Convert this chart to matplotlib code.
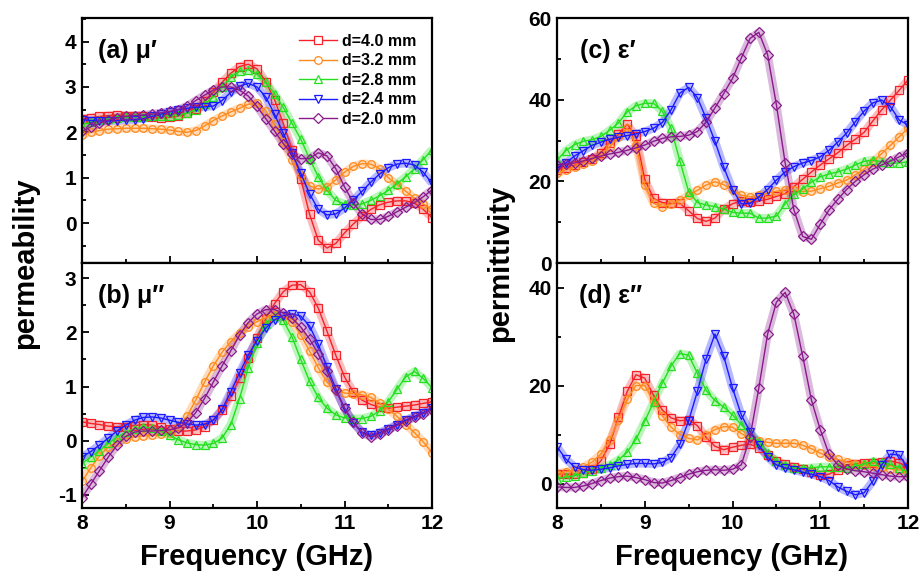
import matplotlib
matplotlib.use('Agg')
from matplotlib import pyplot as plt
from matplotlib.ticker import MultipleLocator

plt.rcParams['font.family'] = ['Liberation Sans', 'DejaVu Sans']
plt.rcParams['font.weight'] = 'bold'
plt.rcParams['axes.unicode_minus'] = False

freq = [8.0, 8.1, 8.2, 8.3, 8.4, 8.5, 8.6, 8.7, 8.8, 8.9,
        9.0, 9.1, 9.2, 9.3, 9.4, 9.5, 9.6, 9.7, 9.8, 9.9,
        10.0, 10.1, 10.2, 10.3, 10.4, 10.5, 10.6, 10.7, 10.8, 10.9,
        11.0, 11.1, 11.2, 11.3, 11.4, 11.5, 11.6, 11.7, 11.8, 11.9, 12.0]

labels = ['d=4.0 mm', 'd=3.2 mm', 'd=2.8 mm', 'd=2.4 mm', 'd=2.0 mm']

# (a) mu'
mu_re_40 = [2.3, 2.32, 2.35, 2.37, 2.38, 2.37, 2.36, 2.35, 2.33, 2.32,
            2.33, 2.36, 2.42, 2.52, 2.68, 2.88, 3.1, 3.3, 3.45, 3.5,
            3.4, 3.12, 2.72, 2.2, 1.62, 0.98, 0.2, -0.38, -0.55, -0.45,
            -0.22, -0.02, 0.15, 0.3, 0.4, 0.46, 0.49, 0.49, 0.44, 0.3, 0.12]
mu_re_32 = [1.95, 2.0, 2.04, 2.07, 2.08, 2.09, 2.09, 2.09, 2.08, 2.07,
            2.05, 2.02, 2.0, 2.04, 2.14, 2.26, 2.36, 2.45, 2.53, 2.62,
            2.64, 2.48, 2.18, 1.78, 1.4, 1.05, 0.82, 0.75, 0.8, 0.95,
            1.12, 1.25, 1.31, 1.3, 1.2, 1.0, 0.85, 0.7, 0.55, 0.42, 0.3]
mu_re_28 = [2.17, 2.22, 2.27, 2.3, 2.32, 2.33, 2.34, 2.34, 2.35, 2.36,
            2.37, 2.39, 2.42, 2.5, 2.62, 2.78, 3.0, 3.22, 3.35, 3.38,
            3.28, 3.1, 2.85, 2.55, 2.2, 1.85, 1.42, 1.02, 0.72, 0.5,
            0.42, 0.4, 0.42, 0.5, 0.6, 0.72, 0.87, 1.02, 1.2, 1.4, 1.62]
mu_re_24 = [2.28, 2.26, 2.25, 2.25, 2.26, 2.27, 2.28, 2.3, 2.35, 2.4,
            2.45, 2.5, 2.53, 2.55, 2.56, 2.58, 2.7, 2.88, 3.02, 3.08,
            3.0, 2.78, 2.4, 1.98, 1.55, 1.1, 0.65, 0.3, 0.18, 0.2,
            0.33, 0.5, 0.7, 0.9, 1.08, 1.22, 1.3, 1.32, 1.28, 1.12, 0.88]
mu_re_20 = [2.02, 2.12, 2.2, 2.27, 2.32, 2.35, 2.37, 2.38, 2.4, 2.43,
            2.46, 2.5, 2.58, 2.7, 2.82, 2.93, 3.0, 3.0, 2.93, 2.8,
            2.57, 2.3, 2.03, 1.75, 1.52, 1.42, 1.42, 1.55, 1.48, 1.2,
            0.8, 0.45, 0.2, 0.08, 0.08, 0.15, 0.25, 0.35, 0.45, 0.58, 0.73]

# (b) mu''
mu_im_40 = [0.35, 0.32, 0.3, 0.27, 0.26, 0.26, 0.28, 0.3, 0.29, 0.25,
            0.21, 0.18, 0.18, 0.2, 0.26, 0.38, 0.56, 0.82, 1.15, 1.52,
            1.9, 2.25, 2.53, 2.75, 2.87, 2.88, 2.75, 2.45, 2.02, 1.58,
            1.18, 0.9, 0.75, 0.67, 0.62, 0.6, 0.62, 0.64, 0.66, 0.69, 0.72]
mu_im_32 = [-0.75, -0.5, -0.28, -0.12, -0.02, 0.04, 0.07, 0.09, 0.1, 0.12,
            0.15, 0.25, 0.45, 0.75, 1.08, 1.38, 1.63, 1.83, 1.98, 2.1,
            2.2, 2.27, 2.32, 2.3, 2.2, 1.95, 1.66, 1.35, 1.08, 0.93,
            0.88, 0.87, 0.85, 0.8, 0.7, 0.58, 0.45, 0.3, 0.15, -0.02, -0.22]
mu_im_28 = [-0.42, -0.3, -0.18, -0.05, 0.07, 0.16, 0.22, 0.25, 0.24, 0.18,
            0.1, 0.02, -0.04, -0.07, -0.08, -0.05, 0.05, 0.3, 0.78, 1.35,
            1.8, 2.15, 2.3, 2.22, 1.92, 1.5, 1.1, 0.8, 0.6, 0.48,
            0.42, 0.41, 0.41, 0.45, 0.55, 0.72, 0.95, 1.18, 1.28, 1.15, 0.98]
mu_im_24 = [-0.3, -0.2, -0.08, 0.05, 0.18, 0.29, 0.38, 0.43, 0.44, 0.42,
            0.38, 0.34, 0.31, 0.29, 0.3, 0.38, 0.58, 0.9, 1.25, 1.58,
            1.85, 2.08, 2.23, 2.31, 2.34, 2.3, 2.12, 1.78, 1.36, 0.96,
            0.6, 0.33, 0.16, 0.1, 0.15, 0.22, 0.3, 0.38, 0.45, 0.52, 0.6]
mu_im_20 = [-1.05, -0.8, -0.55, -0.3, -0.08, 0.08, 0.16, 0.18, 0.18, 0.19,
            0.2, 0.24, 0.34, 0.52, 0.78, 1.08, 1.38, 1.66, 1.95, 2.18,
            2.34, 2.42, 2.42, 2.36, 2.26, 2.1, 1.88, 1.6, 1.28, 0.93,
            0.6, 0.34, 0.15, 0.07, 0.12, 0.2, 0.28, 0.36, 0.43, 0.5, 0.57]

# (c) eps'
eps_re_40 = [22.8, 23.3, 24.0, 24.8, 25.5, 27.0, 29.5, 31.5, 34.0, 31.0,
             20.5, 15.8, 14.8, 14.6, 14.6, 12.8, 10.9, 10.2, 11.0, 13.2,
             14.5, 15.2, 14.9, 15.2, 15.6, 16.3, 17.0, 18.7, 20.5, 22.3,
             24.0, 25.5, 27.0, 28.8, 30.3, 32.0, 34.8, 37.5, 39.9, 42.3, 44.8]
eps_re_32 = [22.0, 22.8, 23.6, 24.2, 25.0, 26.5, 28.5, 30.8, 33.0, 29.0,
             19.0, 14.6, 13.8, 14.4, 15.4, 16.6, 17.8, 19.1, 19.9, 19.2,
             17.8, 16.6, 16.2, 16.6, 17.1, 17.6, 17.9, 17.8, 17.5, 17.6,
             18.2, 18.8, 19.6, 20.3, 21.6, 23.0, 24.8, 26.8, 28.8, 30.9, 33.0]
eps_re_28 = [25.2, 27.5, 29.0, 29.8, 30.2, 31.0, 32.5, 34.3, 37.0, 38.5,
             39.1, 39.1, 37.2, 33.0, 25.0, 17.5, 14.8, 14.2, 13.8, 13.2,
             12.4, 12.2, 12.2, 11.0, 11.0, 11.5, 14.5, 16.8, 18.2, 19.8,
             21.1, 21.8, 22.3, 23.0, 24.0, 24.9, 25.2, 24.8, 24.4, 24.5, 24.8]
eps_re_24 = [23.2, 24.5, 26.2, 27.5, 28.8, 29.6, 30.3, 30.8, 31.2, 31.6,
             32.2, 33.0, 34.4, 37.5, 41.6, 43.0, 40.5, 35.4, 29.8, 23.5,
             18.0, 14.5, 14.6, 16.2, 18.0, 20.3, 22.3, 23.6, 24.5, 25.1,
             26.0, 27.6, 29.6, 31.8, 34.6, 37.2, 39.2, 39.9, 38.3, 35.0, 33.8]
eps_re_20 = [24.0, 24.2, 24.5, 25.0, 25.6, 26.2, 26.7, 27.1, 27.6, 28.2,
             28.9, 29.8, 30.5, 30.9, 31.0, 31.3, 32.2, 34.5, 38.0, 41.5,
             45.2, 50.2, 55.0, 56.5, 51.0, 38.8, 24.5, 13.0, 6.5, 5.8,
             9.5, 13.0, 15.6, 18.0, 20.0, 21.6, 23.0, 24.0, 25.0, 26.0, 27.0]

# (d) eps''
eps_im_40 = [2.0, 1.9, 1.9, 2.2, 2.9, 4.6, 8.0, 13.5, 18.8, 22.2,
             21.5, 18.0, 15.0, 13.4, 12.8, 13.0, 11.8, 9.4, 7.6, 6.9,
             7.4, 7.8, 8.0, 7.3, 5.8, 4.6, 3.9, 3.4, 2.9, 2.4,
             1.8, 1.9, 2.8, 3.8, 4.0, 4.1, 4.2, 4.4, 4.6, 4.2, 3.4]
eps_im_32 = [2.0, 2.4, 2.8, 3.4, 4.4, 6.0, 8.8, 13.0, 17.2, 20.0,
             20.0, 16.8, 13.8, 11.5, 10.0, 9.2, 8.9, 10.0, 11.0, 11.6,
             11.5, 10.2, 9.2, 8.7, 8.4, 8.2, 8.2, 8.2, 7.8, 7.1,
             6.2, 5.5, 4.9, 4.4, 4.0, 3.7, 3.5, 3.3, 3.0, 2.8, 2.6]
eps_im_28 = [1.0, 1.3, 1.6, 2.1, 2.6, 3.2, 3.8, 4.8, 6.4, 9.0,
             12.7, 16.6, 20.5, 24.0, 26.5, 26.2, 22.5, 19.0, 16.9, 15.6,
             14.0, 12.0, 10.2, 8.5, 6.2, 4.6, 3.7, 3.1, 3.1, 3.2,
             3.4, 3.4, 3.3, 3.1, 3.5, 4.0, 4.5, 4.3, 3.9, 3.2, 2.4]
eps_im_24 = [7.5, 5.0, 3.4, 2.8, 2.7, 2.9, 3.2, 3.6, 3.9, 4.1,
             4.1, 4.0, 4.3, 5.3, 8.0, 12.8, 18.8, 25.5, 30.5, 26.0,
             19.5, 14.0, 10.6, 7.8, 5.4, 3.8, 3.2, 2.8, 2.3, 1.9,
             1.4, 0.6, -0.7, -1.6, -2.3, -1.9, 0.5, 3.8, 6.0, 5.8, 3.1]
eps_im_20 = [-0.7, -0.8, -0.8, -0.5, 0.0, 0.6, 1.1, 1.4, 1.5, 1.2,
             0.8, 0.2, 0.1, 0.6, 1.2, 1.9, 2.4, 2.7, 2.8, 2.7,
             2.9, 3.8, 9.5, 19.5, 30.5, 37.0, 39.0, 34.5, 26.0, 17.0,
             11.0, 6.0, 3.8, 3.0, 2.6, 2.4, 2.1, 1.8, 1.5, 1.4, 1.4]

colors = ['#f5222a', '#ff8a1c', '#22e01e', '#1a1aff', '#8a1a8c']
markers = ['s', 'o', '^', 'v', 'D']
msizes = [5.5, 5.5, 5.5, 5.5, 5.0]

fig = plt.figure(figsize=(9.22, 5.75), dpi=100)
W, H = 922.0, 575.0

def make_ax(x0, x1, y0, y1):
   return fig.add_axes([x0 / W, 1 - y1 / H, (x1 - x0) / W, (y1 - y0) / H])

ax_a = make_ax(82, 432, 18, 263)
ax_b = make_ax(82, 432, 263, 508)
ax_c = make_ax(557, 908, 18, 263)
ax_d = make_ax(557, 908, 263, 508)

panels = [
   (ax_a, [mu_re_40, mu_re_32, mu_re_28, mu_re_24, mu_re_20], (-0.88, 4.52), 1, 0.5, '(a) μ′', 0.046),
   (ax_b, [mu_im_40, mu_im_32, mu_im_28, mu_im_24, mu_im_20], (-1.24, 3.28), 1, 0.5, '(b) μ″', 0.046),
   (ax_c, [eps_re_40, eps_re_32, eps_re_28, eps_re_24, eps_re_20], (0, 60), 20, 10, '(c) ε′', 0.065),
   (ax_d, [eps_im_40, eps_im_32, eps_im_28, eps_im_24, eps_im_20], (-5, 45), 20, 10, '(d) ε″', 0.063),
]

for ax, series, ylim, major, minor, tag, tx in panels:
   for i in range(len(series)):
      # soft band behind the open markers, like the overlapping symbols in the original
      ax.plot(freq, series[i], color=colors[i], lw=6, alpha=0.3,
              solid_capstyle='butt', zorder=2)
      ax.plot(freq, series[i], color=colors[i], lw=1.0, marker=markers[i],
              ms=msizes[i], mfc='none', mec=colors[i], mew=0.9, label=labels[i],
              zorder=3)
   ax.set_xlim(8, 12)
   ax.set_ylim(*ylim)
   ax.xaxis.set_major_locator(MultipleLocator(1))
   ax.xaxis.set_minor_locator(MultipleLocator(0.5))
   ax.yaxis.set_major_locator(MultipleLocator(major))
   ax.yaxis.set_minor_locator(MultipleLocator(minor))
   ax.tick_params(which='both', direction='in', top=False, right=False, width=1.3)
   ax.tick_params(which='major', length=5, labelsize=15, pad=4)
   ax.tick_params(which='minor', length=3)
   for s in ax.spines.values():
      s.set_linewidth(1.6)
      s.set_zorder(5)
   for t in ax.get_xticklabels() + ax.get_yticklabels():
      t.set_fontweight('bold')
   ax.text(tx, 0.866, tag, transform=ax.transAxes, fontsize=18, fontweight='bold',
           va='center')

for ax in (ax_a, ax_c):
   ax.tick_params(labelbottom=False)

leg = ax_a.legend(loc='upper right', bbox_to_anchor=(1.0, 1.0), frameon=False,
                  prop={'size': 11.5, 'weight': 'bold'}, handlelength=2.4,
                  handletextpad=0.3, labelspacing=0.28, borderaxespad=0.6)
for h in leg.legend_handles:
   h.set_markerfacecolor('white')

fig.text(25 / W, 1 - 263 / H, 'permeability', rotation=90, ha='center', va='center',
         fontsize=21, fontweight='bold')
fig.text(500 / W, 1 - 263 / H, 'permittivity', rotation=90, ha='center', va='center',
         fontsize=21, fontweight='bold')
fig.text(257 / W, 1 - 557 / H, 'Frequency (GHz)', ha='center', va='center',
         fontsize=21, fontweight='bold')
fig.text(732 / W, 1 - 557 / H, 'Frequency (GHz)', ha='center', va='center',
         fontsize=21, fontweight='bold')

plt.savefig('out.png', dpi=100)
